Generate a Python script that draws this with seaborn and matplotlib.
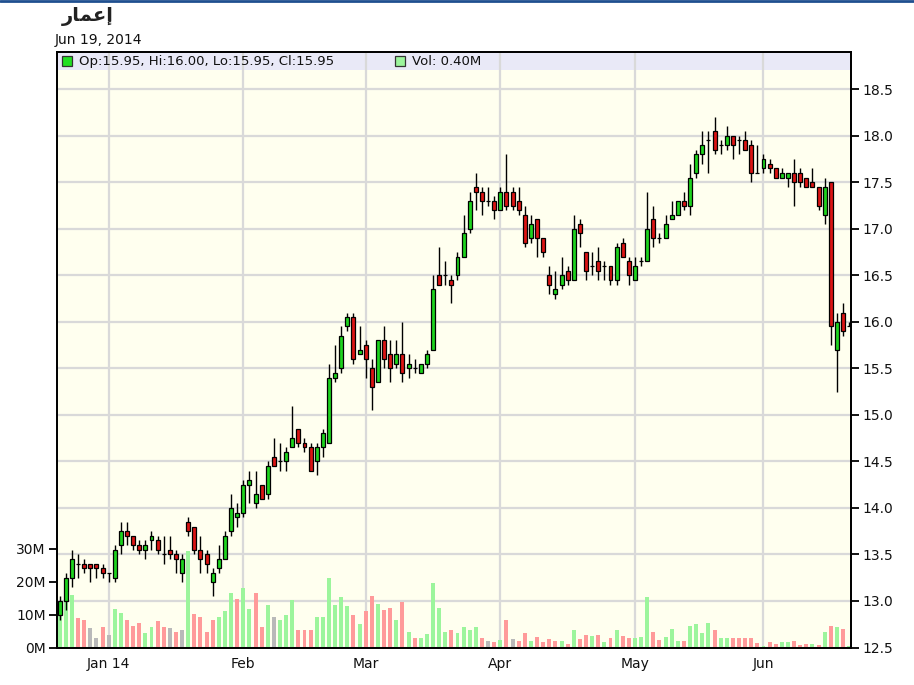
"""Emaar daily candlesticks with volume, late Dec 2013 to Jun 19 2014."""

import matplotlib

matplotlib.use("Agg")
import matplotlib.pyplot as plt
import matplotlib.transforms as mtransforms
import numpy as np
import pandas as pd
import seaborn as sns
from matplotlib.patches import Rectangle

# إعمار written as shaped Arabic glyphs in visual order (matplotlib does no shaping)
TITLE = "\ufead\ufe8e\ufee4\ufecb\ufe87"
DATE_LABEL = "Jun 19, 2014"

# trading days Sun-Thu
dates = pd.bdate_range("2013-12-22", "2014-06-19", freq="C", weekmask="Sun Mon Tue Wed Thu")

opens = [
    12.85, 13.00, 13.25, 13.40, 13.40, 13.40, 13.40, 13.35, 13.30, 13.25,
    13.60, 13.75, 13.70, 13.60, 13.55, 13.65, 13.65, 13.50, 13.55, 13.50,
    13.30, 13.85, 13.80, 13.55, 13.50, 13.20, 13.35, 13.45, 13.75, 13.90,
    13.95, 14.25, 14.05, 14.25, 14.15, 14.55, 14.50, 14.50, 14.65, 14.85,
    14.70, 14.65, 14.50, 14.65, 14.70, 15.40, 15.50, 15.95, 16.05, 15.65,
    15.75, 15.50, 15.35, 15.80, 15.65, 15.55, 15.65, 15.50, 15.50, 15.45,
    15.55, 15.70, 16.50, 16.50, 16.45, 16.50, 16.70, 17.00, 17.45, 17.40,
    17.30, 17.30, 17.20, 17.40, 17.40, 17.30, 17.15, 16.90, 17.10, 16.90,
    16.50, 16.30, 16.40, 16.55, 16.45, 17.05, 16.75, 16.60, 16.65, 16.60,
    16.60, 16.45, 16.85, 16.65, 16.45, 16.65, 16.65, 17.10, 16.90, 16.90,
    17.10, 17.15, 17.30, 17.25, 17.60, 17.80, 17.95, 18.05, 17.90, 17.90,
    18.00, 17.95, 17.95, 17.90, 17.60, 17.65, 17.70, 17.65, 17.55, 17.55,
    17.60, 17.60, 17.55, 17.50, 17.45, 17.15, 17.50, 15.70, 16.10, 15.95,
]
highs = [
    13.05, 13.30, 13.55, 13.50, 13.45, 13.40, 13.40, 13.40, 13.30, 13.60,
    13.85, 13.85, 13.70, 13.65, 13.65, 13.75, 13.70, 13.70, 13.70, 13.55,
    13.50, 13.90, 13.80, 13.70, 13.55, 13.35, 13.60, 13.75, 14.15, 14.05,
    14.30, 14.40, 14.40, 14.25, 14.50, 14.75, 14.70, 14.65, 15.10, 14.85,
    14.75, 14.70, 14.70, 14.85, 15.55, 15.75, 15.95, 16.10, 16.10, 15.95,
    15.80, 15.60, 15.80, 15.95, 15.80, 15.80, 16.00, 15.65, 15.60, 15.55,
    15.70, 16.50, 16.80, 16.65, 16.50, 16.75, 17.15, 17.40, 17.60, 17.45,
    17.45, 17.35, 17.45, 17.80, 17.45, 17.45, 17.25, 17.15, 17.10, 16.90,
    16.60, 16.55, 16.70, 16.60, 17.15, 17.10, 16.75, 16.75, 16.80, 16.65,
    16.60, 16.85, 16.90, 16.70, 16.70, 16.70, 17.40, 17.25, 16.95, 17.15,
    17.30, 17.30, 17.40, 17.70, 17.85, 18.05, 18.05, 18.20, 17.95, 18.10,
    18.00, 18.00, 18.05, 17.95, 17.90, 17.80, 17.75, 17.65, 17.65, 17.60,
    17.75, 17.65, 17.55, 17.65, 17.45, 17.55, 17.50, 16.10, 16.20, 16.00,
]
lows = [
    12.80, 12.90, 13.15, 13.25, 13.30, 13.20, 13.25, 13.25, 13.20, 13.20,
    13.50, 13.60, 13.55, 13.50, 13.45, 13.55, 13.50, 13.40, 13.45, 13.30,
    13.20, 13.70, 13.50, 13.30, 13.30, 13.05, 13.30, 13.45, 13.70, 13.80,
    13.90, 14.05, 14.00, 14.10, 14.10, 14.45, 14.40, 14.40, 14.65, 14.65,
    14.60, 14.40, 14.35, 14.55, 14.70, 15.35, 15.45, 15.90, 15.55, 15.65,
    15.40, 15.05, 15.35, 15.50, 15.35, 15.50, 15.35, 15.40, 15.45, 15.45,
    15.50, 15.70, 16.40, 16.40, 16.20, 16.45, 16.70, 16.95, 17.20, 17.15,
    17.25, 17.10, 17.20, 17.20, 17.20, 17.15, 16.80, 16.85, 16.70, 16.70,
    16.30, 16.25, 16.35, 16.40, 16.45, 16.80, 16.45, 16.50, 16.45, 16.45,
    16.40, 16.40, 16.70, 16.40, 16.45, 16.60, 16.65, 16.80, 16.85, 16.90,
    17.10, 17.15, 17.20, 17.15, 17.55, 17.70, 17.60, 17.80, 17.80, 17.85,
    17.75, 17.80, 17.85, 17.50, 17.60, 17.60, 17.60, 17.55, 17.55, 17.45,
    17.25, 17.45, 17.45, 17.45, 17.20, 17.05, 15.75, 15.25, 15.85, 15.95,
]
closes = [
    13.00, 13.25, 13.45, 13.40, 13.35, 13.35, 13.35, 13.30, 13.30, 13.55,
    13.75, 13.70, 13.60, 13.55, 13.60, 13.70, 13.55, 13.50, 13.50, 13.45,
    13.45, 13.75, 13.55, 13.45, 13.40, 13.30, 13.45, 13.70, 14.00, 13.95,
    14.25, 14.30, 14.15, 14.10, 14.45, 14.45, 14.50, 14.60, 14.75, 14.70,
    14.65, 14.40, 14.65, 14.80, 15.40, 15.45, 15.85, 16.05, 15.60, 15.70,
    15.60, 15.30, 15.80, 15.60, 15.50, 15.65, 15.45, 15.55, 15.50, 15.55,
    15.65, 16.35, 16.40, 16.50, 16.40, 16.70, 16.95, 17.30, 17.40, 17.30,
    17.30, 17.20, 17.40, 17.25, 17.25, 17.20, 16.85, 17.05, 16.90, 16.75,
    16.40, 16.35, 16.50, 16.45, 17.00, 16.95, 16.55, 16.60, 16.55, 16.60,
    16.45, 16.80, 16.70, 16.50, 16.60, 16.65, 17.00, 16.90, 16.90, 17.05,
    17.15, 17.30, 17.25, 17.55, 17.80, 17.90, 17.95, 17.85, 17.90, 18.00,
    17.90, 17.95, 17.85, 17.60, 17.60, 17.75, 17.65, 17.55, 17.60, 17.60,
    17.50, 17.50, 17.45, 17.45, 17.25, 17.45, 15.95, 16.00, 15.90, 15.95,
]
# volume in millions of shares
volume_m = [
    11.6, 13.9, 16.1, 9.0, 8.5, 5.8, 2.9, 6.3, 3.8, 11.6,
    10.6, 8.5, 6.6, 7.5, 4.3, 6.2, 8.1, 6.2, 5.8, 4.7,
    5.3, 29.3, 10.3, 9.4, 4.7, 8.5, 9.4, 11.1, 16.7, 14.8,
    18.0, 11.6, 16.7, 6.1, 12.9, 9.3, 8.3, 9.8, 14.3, 5.3,
    5.3, 5.3, 9.3, 9.3, 21.0, 12.9, 15.2, 12.5, 9.8, 7.1,
    11.1, 15.7, 13.3, 11.5, 11.9, 8.4, 13.8, 4.7, 2.8, 2.8,
    4.2, 19.7, 11.9, 4.7, 5.3, 4.3, 6.2, 5.3, 6.2, 2.9,
    2.0, 1.6, 2.4, 8.4, 2.5, 2.0, 4.3, 2.0, 3.3, 1.6,
    2.5, 2.0, 2.0, 1.1, 5.3, 2.5, 3.8, 3.4, 3.8, 1.6,
    2.9, 5.3, 3.4, 2.9, 2.9, 3.3, 15.4, 4.7, 2.4, 3.3,
    5.7, 2.0, 2.0, 6.6, 7.1, 4.3, 7.5, 5.3, 2.9, 2.9,
    2.9, 2.9, 2.9, 2.9, 1.5, 0.5, 1.6, 1.1, 1.6, 1.6,
    2.0, 0.7, 1.1, 1.1, 0.7, 4.7, 6.6, 6.2, 5.7, 0.40,
]
# volume bar shade: g = up, r = down, n = unchanged
volume_dir = (
    "gggrrnnrng" "grrrggrrnr" "ngrrrrgggr" "ggrrgngggr" "rrggggggrg"
    "rrgrrgrgrg" "ggggrggggr" "nrgrnrrgrr" "rrgrgrrgrg" "rgrrgggrrg"
    "ggrggggrgg" "rrrrrgrrgg" "rrrgrgrgrg"
)

PRICE_TICKS = [12.5, 13.0, 13.5, 14.0, 14.5, 15.0, 15.5, 16.0, 16.5, 17.0, 17.5, 18.0, 18.5]
VOL_TICKS = [0, 10, 20, 30]

UP = "#1ed41e"
DOWN = "#dc1414"
VOL_COLORS = {"g": "#9cf59c", "r": "#ff9a9a", "n": "#b9b9b9"}
GRID = "#d9d9d9"
PLOT_BG = "#ffffef"
STRIP_BG = "#e9e9f7"


def main() -> None:
    sns.set_theme(style="white")
    plt.rcParams["font.family"] = ["DejaVu Sans"]

    o = np.array(opens)
    h = np.array(highs)
    lo = np.array(lows)
    c = np.array(closes)
    n = len(c)
    pos = np.arange(n)
    d = dates[:n]

    W, H = 914, 685
    fig = plt.figure(figsize=(W / 100, H / 100), dpi=100)
    fig.patch.set_facecolor("white")
    left, right, top, bottom = 57, 851.5, 52, 647.5
    ax_vol = fig.add_axes([left / W, 1 - bottom / H, (right - left) / W, (bottom - top) / H])
    ax_vol.set_facecolor(PLOT_BG)
    ax_price = ax_vol.twinx()
    ax_price.set_zorder(ax_vol.get_zorder() + 1)
    ax_price.patch.set_visible(False)

    # legend strip across the top of the plot
    ax_vol.add_patch(Rectangle((0, 1 - 18 / (bottom - top)), 1, 18 / (bottom - top),
                               transform=ax_vol.transAxes, facecolor=STRIP_BG,
                               edgecolor="none", zorder=0.2))

    # volume bars
    vdf = pd.DataFrame({"pos": pos, "vol": volume_m[:n], "dir": list(volume_dir[:n])})
    sns.barplot(data=vdf, x="pos", y="vol", hue="dir", palette=VOL_COLORS, dodge=False,
                width=0.65, saturation=1, errorbar=None, legend=False, linewidth=0,
                native_scale=True, ax=ax_vol)
    ax_vol.set_ylim(0, 181)
    ax_vol.set_yticks(VOL_TICKS, [f"{v}M" for v in VOL_TICKS])

    # grid behind the bars
    ax_price.set_ylim(12.5, 18.9)
    blend = mtransforms.blended_transform_factory(ax_vol.transAxes, ax_price.transData)
    ax_vol.hlines(PRICE_TICKS, 0, 1, transform=blend, color=GRID, lw=1.6, zorder=0.5)
    month_pos = [i for i in range(1, n) if d[i].month != d[i - 1].month]
    month_lab = [d[i].strftime("%b %y") if d[i].year != d[0].year and d[i].month == 1
                 else d[i].strftime("%b") for i in month_pos]
    ax_vol.vlines(month_pos, 0, 1, transform=ax_vol.get_xaxis_transform(), color=GRID,
                  lw=1.6, zorder=0.5)

    # candlesticks
    body_col = np.where(c > o, UP, np.where(c < o, DOWN, "black"))
    ax_price.vlines(pos, lo, h, color="black", lw=1.0, zorder=2)
    ax_price.bar(pos, c - o, bottom=o, width=0.65, color=body_col, edgecolor="black",
                 linewidth=0.9, zorder=3)
    ax_price.set_yticks(PRICE_TICKS, [f"{t:.1f}" for t in PRICE_TICKS])

    ax_vol.set_xlim(-0.44, 129.38)
    ax_vol.set_xticks(month_pos, month_lab)
    ax_vol.set_xlabel("")
    ax_vol.set_ylabel("")

    for ax in (ax_vol, ax_price):
        for sp in ax.spines.values():
            sp.set_color("black")
            sp.set_linewidth(1.3)
    tick_kw = dict(direction="out", length=6, width=1.3, color="black",
                   labelsize=10, labelcolor="#111111", pad=2)
    ax_vol.tick_params(axis="both", **tick_kw)
    ax_price.tick_params(axis="y", **tick_kw)
    ax_vol.tick_params(axis="x", pad=1)

    # header texts
    fig.text(62 / W, 1 - 17 / H, TITLE, fontsize=14, fontweight="bold", va="center",
             ha="left", color="#222222")
    fig.text(55 / W, 1 - 40 / H, DATE_LABEL, fontsize=10, va="center", ha="left",
             color="#111111")
    fig.add_artist(plt.Line2D([0, 1], [1 - 1 / H, 1 - 1 / H], color="#1f4f8f", lw=2))

    # legend in the strip
    y_leg = 1 - (61 - top) / (bottom - top)
    ax_price.plot([(67 - left) / (right - left)], [y_leg], marker="s", ms=7,
                  mfc="#22e022", mec="#333333", mew=0.9, transform=ax_price.transAxes,
                  clip_on=False, zorder=5)
    ax_price.text((79 - left) / (right - left), y_leg,
                  f"Op:{o[-1]:.2f}, Hi:{h[-1]:.2f}, Lo:{lo[-1]:.2f}, Cl:{c[-1]:.2f}",
                  transform=ax_price.transAxes, fontsize=9.5, va="center", ha="left",
                  color="#111111")
    ax_price.plot([(400 - left) / (right - left)], [y_leg], marker="s", ms=7,
                  mfc=VOL_COLORS["g"], mec="#333333", mew=0.9, transform=ax_price.transAxes,
                  clip_on=False, zorder=5)
    ax_price.text((412 - left) / (right - left), y_leg, f"Vol: {volume_m[-1]:.2f}M",
                  transform=ax_price.transAxes, fontsize=9.5, va="center", ha="left",
                  color="#111111")

    fig.savefig("out.png", dpi=100)
    plt.close(fig)


if __name__ == "__main__":
    main()
